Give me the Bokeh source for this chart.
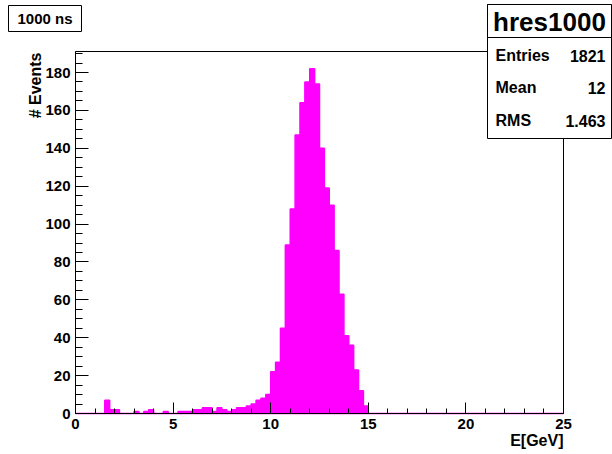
import math
from bokeh.plotting import figure
from bokeh.models import Range1d, Label, BoxAnnotation, FixedTicker, ColumnDataSource
from bokeh.embed import file_html
from bokeh.resources import INLINE

# ---------------- data ----------------
hist_name = "hres1000"
pave_text = "1000 ns"
x_title = "E[GeV]"
y_title = "# Events"
stat_labels = ["Entries", "Mean", "RMS"]
stat_values = ["1821", "12", "1.463"]

x_min, x_max = 0.0, 25.0
bin_width = 0.25
counts = [
    0, 0, 0, 0, 0, 0, 7, 2, 2, 0,          # 0.00 - 2.25
    0, 0, 1, 0, 1, 2, 0, 0, 1, 0,          # 2.50 - 4.75
    0, 1, 1, 1, 2, 2, 3, 3, 1, 3,          # 5.00 - 7.25
    2, 1, 2, 3, 3, 4, 5, 7, 8, 10,         # 7.50 - 9.75
    22, 27, 45, 89, 108, 147, 164, 175, 182, 174,   # 10.0 - 12.25
    140, 119, 110, 86, 63, 41, 36, 23, 12, 4,       # 12.5 - 14.75
    0, 0, 0, 0, 0, 0, 0, 0, 0, 0,
    0, 0, 0, 0, 0, 0, 0, 0, 0, 0,
    0, 0, 0, 0, 0, 0, 0, 0, 0, 0,
    0, 0, 0, 0, 0, 0, 0, 0, 0, 0,
]
x_major_ticks = [0, 5, 10, 15, 20, 25]
y_major_ticks = [0, 20, 40, 60, 80, 100, 120, 140, 160, 180]

# ---------------- layout ----------------
W, H = 612, 454
FL, FR, FT, FB = 75, 563, 51, 413   # histogram frame edges in canvas pixels
MAG = "#ff00ff"
FONT = "Liberation Sans"

lefts = [x_min + i * bin_width for i in range(len(counts))]
rights = [l + bin_width for l in lefts]
src = ColumnDataSource(dict(left=lefts, right=rights, top=counts, bottom=[0] * len(counts)))

y_top = 1.05 * max(counts)

# the plotting area spans the whole canvas; axes are pinned at x=0 / y=0
ppx = (FR - FL) / (x_max - x_min)
ppy = (FB - FT) / y_top
xr = Range1d(x_min - FL / ppx, x_max + (W - FR) / ppx)
yr = Range1d(-(H - FB) / ppy, y_top + FT / ppy)

p = figure(width=W, height=H, output_backend="svg", toolbar_location=None,
           x_range=xr, y_range=yr,
           min_border=0, min_border_left=0, min_border_right=0,
           min_border_top=0, min_border_bottom=0)
p.background_fill_color = "white"
p.border_fill_color = "white"
p.outline_line_color = None
p.xgrid.visible = False
p.ygrid.visible = False

# frame (top / right edges)
p.add_layout(BoxAnnotation(left=x_min, right=x_max, bottom=0, top=y_top,
                           fill_alpha=0, line_color="black", line_alpha=1.0,
                           line_width=1, level="underlay"))

p.quad(left="left", right="right", top="top", bottom="bottom", source=src,
       fill_color=MAG, line_color=MAG, line_width=1.5)

p.xaxis.ticker = FixedTicker(ticks=x_major_ticks,
                             minor_ticks=[float(v) for v in range(int(x_min), int(x_max) + 1)])
p.yaxis.ticker = FixedTicker(ticks=y_major_ticks,
                             minor_ticks=[float(v) for v in range(0, int(y_top) + 1, 5)])
p.xaxis.fixed_location = 0
p.yaxis.fixed_location = x_min
p.xaxis.bounds = (x_min, x_max)
p.yaxis.bounds = (0, y_top)

for ax, maj, mnr in ((p.xaxis, 11, 5), (p.yaxis, 13, 7)):
    ax.axis_line_color = "black"
    ax.major_tick_line_color = "black"
    ax.minor_tick_line_color = "black"
    ax.major_tick_in = maj
    ax.major_tick_out = 0
    ax.minor_tick_in = mnr
    ax.minor_tick_out = 0
    ax.major_label_text_font = FONT
    ax.major_label_text_font_style = "bold"
    ax.major_label_text_font_size = "15px"
    ax.major_label_text_color = "black"
    ax.major_label_standoff = 5


def sx(px):
    return px


def sy(py):
    return H - py


def box(l, t, r, b):
    p.add_layout(BoxAnnotation(left=sx(l), right=sx(r), top=sy(t), bottom=sy(b),
                               left_units="screen", right_units="screen",
                               top_units="screen", bottom_units="screen",
                               fill_color="white", fill_alpha=1.0,
                               line_color="black", line_alpha=1.0, line_width=1,
                               level="overlay"))


def text(x, y, s, size, align="left", angle=0.0):
    p.add_layout(Label(x=sx(x), y=sy(y), x_units="screen", y_units="screen",
                       text=s, text_font=FONT, text_font_style="bold",
                       text_font_size=size, text_align=align, text_baseline="middle",
                       angle=angle, text_color="black", level="overlay"))


# pave "1000 ns"
box(8, 5, 81, 31)
text(44.5, 18, pave_text, "15px", "center")

# stats box
box(487, 4, 611, 138)
box(487, 4, 611, 37)
text(549, 21, hist_name, "26px", "center")
rows_y = [55, 87, 120]
for lab, val, yy in zip(stat_labels, stat_values, rows_y):
    text(495, yy, lab, "16px", "left")
    text(605, yy, val, "16px", "right")

# axis titles
text(FR, 440, x_title, "16px", "right")
text(35, FT + 1, y_title, "16px", "right", angle=math.pi / 2)

open("out.html", "w").write(file_html(p, INLINE))
